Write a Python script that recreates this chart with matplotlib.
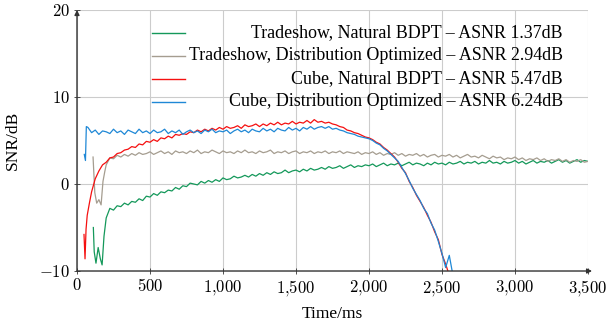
import numpy as np
import matplotlib
matplotlib.use("Agg")
import matplotlib.pyplot as plt
from matplotlib.ticker import FuncFormatter

# series values (dB), 25 ms grid after a short transient head
green_head_t = [112, 118, 130, 145, 160, 172, 185]
green_head = [-5.0, -7.8, -9.1, -7.3, -8.6, -9.3, -6.0]
green_vals = [
    -3.9, -2.8, -3.0, -2.5, -2.6, -2.2, -2.4, -2.0, -2.1, -1.7, -1.9, -1.4, -1.5, -1.1,
    -1.3, -0.9, -1.0, -0.7, -0.8, -0.4, -0.6, -0.2, -0.3, 0.1, 0.0, -0.1, 0.3, 0.1,
    0.4, 0.2, 0.5, 0.3, 0.7, 0.5, 0.6, 0.9, 0.7, 0.8, 1.0, 0.8, 1.1, 0.9, 1.2, 1.0,
    1.3, 1.1, 1.4, 1.2, 1.3, 1.6, 1.3, 1.5, 1.6, 1.4, 1.7, 1.5, 1.8, 1.6, 1.7, 1.9,
    1.7, 2.0, 1.8, 1.9, 2.1, 1.8, 2.0, 2.2, 1.9, 2.1, 2.0, 2.2, 2.1, 2.3, 2.0, 2.2,
    2.4, 2.1, 2.3, 2.2, 2.4, 2.1, 2.3, 2.5, 2.2, 2.4, 2.3, 2.1, 2.4, 2.2, 2.5, 2.3,
    2.4, 2.2, 2.5, 2.3, 2.4, 2.6, 2.3, 2.5, 2.4, 2.6, 2.3, 2.5, 2.4, 2.7, 2.4, 2.5,
    2.3, 2.6, 2.4, 2.5, 2.7, 2.4, 2.6, 2.3, 2.5, 2.7, 2.4, 2.6, 2.5, 2.7, 2.4, 2.6,
    2.8, 2.5, 2.7, 2.4, 2.6, 2.8, 2.5, 2.7, 2.6,
]

gray_head_t = [110, 122, 135, 150, 165, 178, 190]
gray_head = [3.1, -1.0, -2.2, -1.8, -2.4, 0.3, 1.4]
gray_vals = [
    2.2, 3.0, 2.9, 3.3, 3.1, 3.4, 3.2, 3.5, 3.3, 3.6, 3.4, 3.5, 3.7, 3.4, 3.6, 3.8,
    3.5, 3.7, 3.4, 3.8, 3.6, 3.7, 3.5, 3.8, 3.6, 3.9, 3.5, 3.7, 3.6, 3.9, 3.7, 3.5,
    3.8, 3.6, 3.7, 3.5, 3.8, 3.6, 3.9, 3.6, 3.7, 3.5, 3.8, 3.6, 3.7, 3.9, 3.5, 3.7,
    3.6, 3.8, 3.5, 3.7, 3.8, 3.5, 3.7, 3.6, 3.8, 3.5, 3.7, 3.6, 3.8, 3.5, 3.7, 3.6,
    3.8, 3.5, 3.7, 3.6, 3.5, 3.7, 3.4, 3.6, 3.5, 3.7, 3.4, 3.6, 3.3, 3.5, 3.4, 3.6,
    3.3, 3.5, 3.2, 3.4, 3.3, 3.5, 3.2, 3.4, 3.1, 3.3, 3.4, 3.1, 3.3, 3.2, 3.4, 3.1,
    3.3, 3.0, 3.2, 3.4, 3.1, 3.2, 3.0, 3.3, 3.1, 2.9, 3.2, 3.0, 3.1, 2.8, 3.0, 2.9,
    3.1, 2.8, 3.0, 2.7, 2.9, 2.8, 3.0, 2.7, 2.9, 2.6, 2.8, 2.7, 2.9, 2.6, 2.8, 2.5,
    2.7, 2.6, 2.8, 2.5, 2.6,
]

red_head_t = [48, 55, 62, 70, 85]
red_head = [-5.8, -8.6, -5.2, -3.6, -2.2]
red_vals = [
    -0.9, 0.6, 1.5, 2.2, 2.5, 3.0, 3.1, 3.5, 3.6, 3.9, 4.0, 4.3, 4.2, 4.6, 4.5, 4.9,
    4.8, 5.1, 4.9, 5.3, 5.2, 5.5, 5.3, 5.7, 5.6, 5.8, 5.7, 6.0, 5.9, 6.2, 6.0, 6.3,
    6.1, 6.4, 6.2, 6.5, 6.3, 6.6, 6.4, 6.5, 6.7, 6.4, 6.8, 6.6, 6.7, 6.9, 6.6, 6.9,
    6.7, 7.0, 6.8, 7.1, 6.8, 7.0, 6.9, 7.2, 6.9, 7.1, 7.0, 7.3, 7.0, 7.4, 7.1, 7.2,
    7.0, 7.1, 6.9, 6.8, 6.6, 6.5, 6.2, 6.1, 5.9, 5.8, 5.6, 5.4, 5.3, 5.1, 4.8, 4.6,
    4.2, 3.9, 3.5, 3.1, 2.5, 1.8, 1.3, 0.3, -0.4, -1.3, -2.0, -2.7, -3.6, -4.4, -5.5,
    -6.4, -8.1, -9.2, -10.5,
]

blue_head_t = [50, 58, 64]
blue_head = [3.4, 2.7, 6.6]
blue_vals = [
    6.5, 5.9, 6.2, 5.7, 6.1, 6.0, 5.8, 6.3, 5.9, 6.1, 5.7, 6.2, 6.0, 5.8, 6.3, 5.9,
    6.1, 5.8, 6.2, 5.9, 6.0, 6.3, 5.8, 6.1, 5.9, 6.2, 5.7, 6.0, 6.2, 5.9, 6.1, 5.8,
    6.2, 6.0, 6.3, 5.9, 6.1, 6.0, 6.2, 5.8, 6.1, 6.3, 6.0, 6.2, 5.9, 6.3, 6.1, 6.0,
    6.4, 6.1, 6.3, 6.0, 6.4, 6.2, 6.1, 6.5, 6.2, 6.4, 6.1, 6.5, 6.3, 6.6, 6.3, 6.5,
    6.6, 6.4, 6.6, 6.3, 6.4, 6.2, 6.1, 5.9, 5.8, 5.7, 5.5, 5.4, 5.3, 5.2, 5.0, 4.7,
    4.5, 4.1, 3.8, 3.4, 3.0, 2.6, 1.9, 1.2, 0.4, -0.5, -1.2, -1.9, -2.8, -3.4, -4.5,
    -5.3, -6.6, -8.0, -9.6, -8.2, -10.5,
]

labels = [
    "Tradeshow, Natural BDPT \u2013 ASNR 1.37dB",
    "Tradeshow, Distribution Optimized \u2013 ASNR 2.94dB",
    "Cube, Natural BDPT \u2013 ASNR 5.47dB",
    "Cube, Distribution Optimized \u2013 ASNR 6.24dB",
]
colors = ["#14985a", "#a59d90", "#f51010", "#1f88d6"]


def series(head_t, head, vals, start):
    t = np.concatenate([head_t, np.arange(start, start + 25 * len(vals), 25)])
    return t, np.concatenate([head, vals])


data = [
    series(green_head_t, green_head, green_vals, 200),
    series(gray_head_t, gray_head, gray_vals, 200),
    series(red_head_t, red_head, red_vals, 100),
    series(blue_head_t, blue_head, blue_vals, 75),
]

plt.rcParams["font.family"] = "Liberation Serif"
plt.rcParams["mathtext.fontset"] = "cm"

fig = plt.figure(figsize=(6.13, 3.32), dpi=100)
ax = fig.add_axes([0.1256, 0.1837, 0.8336, 0.7862])

for (t, y), c in zip(data, colors):
    ax.plot(t, y, color=c, lw=0.9, clip_on=True)

ax.set_xlim(0, 3500)
ax.set_ylim(-10, 20)
ax.set_xticks(np.arange(0, 3501, 500))
ax.set_yticks([-10, 0, 10, 20])
ax.xaxis.set_major_formatter(FuncFormatter(lambda v, p: "$" + f"{int(v):,}".replace(",", "{,}") + "$"))
ax.yaxis.set_major_formatter(FuncFormatter(lambda v, p: f"${int(v)}$"))
ax.tick_params(direction="inout", length=4, width=0.6, color="#333333", labelsize=12, pad=3)
ax.grid(True, color="#cccccc", lw=0.8)
ax.set_axisbelow(True)
for s in ax.spines.values():
    s.set_visible(False)

# axis lines with arrow heads
ax.annotate("", xy=(1.008, 0), xytext=(0, 0), xycoords="axes fraction",
            arrowprops=dict(arrowstyle="-|>", color="#333333", lw=1.0, mutation_scale=7, shrinkA=0, shrinkB=0))
ax.annotate("", xy=(0, 1.0), xytext=(0, 0), xycoords="axes fraction",
            arrowprops=dict(arrowstyle="-|>", color="#333333", lw=1.0, mutation_scale=7, shrinkA=0, shrinkB=0))

ax.set_xlabel("Time/ms", fontsize=12.5, labelpad=6)
ax.set_ylabel("SNR/dB", fontsize=12.5, labelpad=13)

# legend: short line samples on the left, right-aligned text
for i, (lab, c) in enumerate(zip(labels, colors)):
    yy = 0.913 - i * 0.088
    ax.plot([0.147, 0.212], [yy, yy], color=c, lw=1.0, transform=ax.transAxes)
    ax.text(0.951, yy, lab, transform=ax.transAxes, ha="right", va="center", fontsize=12.9)

fig.savefig("out.png", dpi=100)
